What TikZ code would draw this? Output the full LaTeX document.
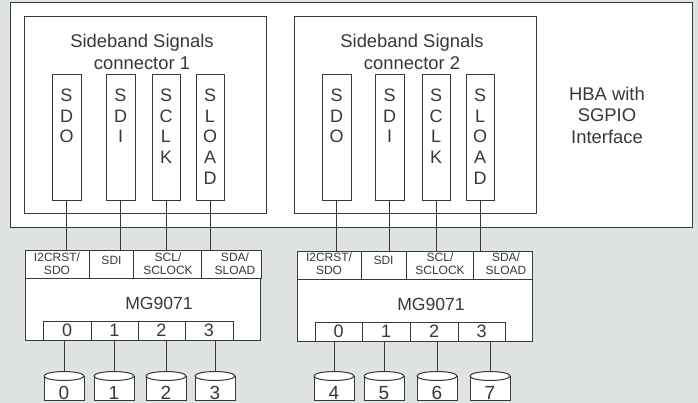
\documentclass[tikz,border=0pt]{standalone}
\usepackage{fontspec}
\setmainfont{Liberation Sans}
\usetikzlibrary{calc}
\definecolor{bgc}{HTML}{E0E4E0}
\definecolor{ink}{HTML}{383838}
\tikzset{
  x=1pt,y=-1pt,
  wire/.style={draw=ink,line width=1pt},
  box/.style={draw=ink,line width=1pt,fill=white,rectangle,inner sep=0pt,outer sep=0pt,text=ink},
  txt/.style={text=ink,align=center,inner sep=0pt},
  head/.style={txt,font=\fontsize{18.4}{22.5}\selectfont},
  side/.style={txt,font=\fontsize{18.4}{21.5}\selectfont},
  letters/.style={txt,font=\fontsize{18}{20.6}\selectfont},
  chipname/.style={txt,font=\fontsize{17.6}{18}\selectfont},
  small/.style={txt,font=\fontsize{12}{13}\selectfont},
  num/.style={txt,font=\fontsize{18}{18}\selectfont},
  diskbody/.style={box,minimum width=40pt,minimum height=24pt,font=\fontsize{19}{19}\selectfont},
  disktop/.style={box,ellipse,minimum width=40pt,minimum height=9pt},
}
\usetikzlibrary{shapes.geometric}
\newcommand{\rectn}[6]{% name, x1,y1,x2,y2, style
  \node[box,#6,anchor=north west,minimum width=#4pt-#2pt,minimum height=#5pt-#3pt] (#1) at (#2,#3) {};
}
\newcommand{\sig}[4]{% name,x1,x2,letters
  \rectn{#1}{#2}{75}{#3}{201}{}
  \node[letters,anchor=north] at ($(#2,89)!0.5!(#3,89)$) {#4};
}
\newcommand{\disk}[3]{% name, left x, label
  \node[diskbody,anchor=north west] (#1) at (#2,376) {\raisebox{-11pt}[0pt][0pt]{#3}};
  \node[disktop] (#1t) at ($(#1.north west)!0.5!(#1.north east)$) {};
}
\begin{document}
\begin{tikzpicture}
\useasboundingbox (0,0) rectangle (698,403);
\fill[bgc] (0,0) rectangle (698,403);
\rectn{hba}{10}{3}{692}{228}{}
\rectn{c1}{24}{17}{266}{214}{}
\rectn{c2}{294}{17}{536}{214}{}
\node[head] (t1) at (142,52) {Sideband Signals\\connector 1};
\node[head] (t2) at (412,52) {Sideband Signals\\connector 2};
\node[side] (hbal) at (607,115) {HBA with\\SGPIO\\Interface};
\sig{a1}{52}{81}{S\\D\\O}
\sig{a2}{106}{135}{S\\D\\I}
\sig{a3}{152}{180}{S\\C\\L\\K}
\sig{a4}{196}{224}{S\\L\\O\\A\\D}
\sig{b1}{322}{351}{S\\D\\O}
\sig{b2}{375}{404}{S\\D\\I}
\sig{b3}{422}{450}{S\\C\\L\\K}
\sig{b4}{466}{494}{S\\L\\O\\A\\D}
% chips
\rectn{m1}{25.5}{278}{260}{340}{}
\rectn{m2}{297.5}{279}{532}{341}{}
\node[chipname] (n1) at (159,303) {MG9071};
\node[chipname] (n2) at (431,304) {MG9071};
\rectn{p1}{25.5}{250}{89}{278}{}
\rectn{p2}{89}{250}{133}{278}{}
\rectn{p3}{133}{250}{201}{278}{}
\rectn{p4}{201}{250}{261}{278}{}
\rectn{q1}{297.5}{251}{361}{279}{}
\rectn{q2}{361}{251}{406}{279}{}
\rectn{q3}{406}{251}{473}{279}{}
\rectn{q4}{473}{251}{532}{279}{}
\node[small] (l1) at (57,263.5) {I2CRST/\\SDO};
\node[small] (l2) at (111.5,260) {SDI};
\node[small] (l3) at (168,263.5) {SCL/\\SCLOCK};
\node[small] (l4) at (235,263.5) {SDA/\\SLOAD};
\node[small] (l5) at (329,263.5) {I2CRST/\\SDO};
\node[small] (l6) at (383.5,260) {SDI};
\node[small] (l7) at (440,264) {SCL/\\SCLOCK};
\node[small] (l8) at (506,264) {SDA/\\SLOAD};
% ports
\foreach \n/\xa/\xb/\l in {r0/43.5/91/0,r1/91/138/1,r2/138/185/2,r3/185/233/3}{
  \rectn{\n}{\xa}{321}{\xb}{340}{}
  \node[num] (\n t) at ($(\xa,330)!0.5!(\xb,330)$) {\l};
}
\foreach \n/\xa/\xb/\l in {s0/315/362/0,s1/362/410/1,s2/410/458/2,s3/458/505/3}{
  \rectn{\n}{\xa}{322}{\xb}{341}{}
  \node[num] (\n t) at ($(\xa,331)!0.5!(\xb,331)$) {\l};
}
% connectors
\draw[wire] (a1.south) -- (p1.north -| a1.south);
\draw[wire] (a2.south) -- (p2.north -| a2.south);
\draw[wire] (a3.south) -- (p3.north -| a3.south);
\draw[wire] (a4.south) -- (p4.north -| a4.south);
\draw[wire] (b1.south) -- (q1.north -| b1.south);
\draw[wire] (b2.south) -- (q2.north -| b2.south);
\draw[wire] (b3.south) -- (q3.north -| b3.south);
\draw[wire] (b4.south) -- (q4.north -| b4.south);
% disks
\disk{d0}{44}{0}
\disk{d1}{94}{1}
\disk{d2}{146}{2}
\disk{d3}{195}{3}
\disk{d4}{314}{4}
\disk{d5}{364}{5}
\disk{d6}{417}{6}
\disk{d7}{470}{7}
\draw[wire] (d0t.north) -- (d0t.north |- r0.south);
\draw[wire] (d1t.north) -- (d1t.north |- r1.south);
\draw[wire] (d2t.north) -- (d2t.north |- r2.south);
\draw[wire] (d3t.north) -- (d3t.north |- r3.south);
\draw[wire] (d4t.north) -- (d4t.north |- s0.south);
\draw[wire] (d5t.north) -- (d5t.north |- s1.south);
\draw[wire] (d6t.north) -- (d6t.north |- s2.south);
\draw[wire] (d7t.north) -- (d7t.north |- s3.south);
\end{tikzpicture}
\end{document}
